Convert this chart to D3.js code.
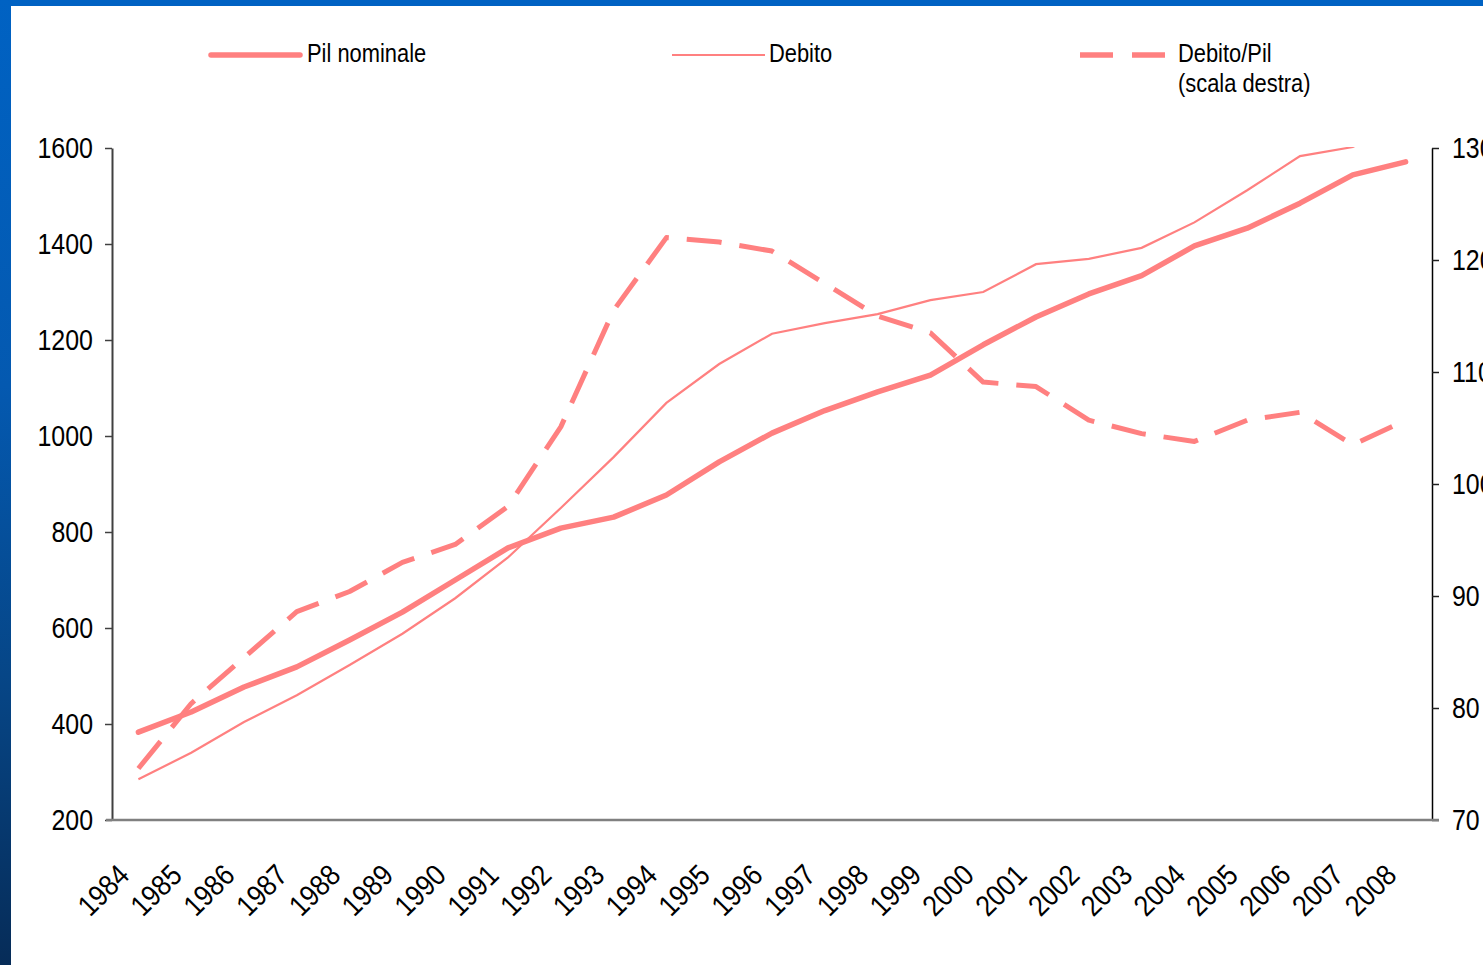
<!DOCTYPE html>
<html>
<head>
<meta charset="utf-8">
<script src="https://cdn.jsdelivr.net/npm/d3@7"></script>
<style>
  html, body { margin: 0; padding: 0; background: #ffffff; overflow: hidden; }
  svg { display: block; font-family: "Liberation Sans", Arial, sans-serif; }
</style>
</head>
<body>
<svg id="chart" width="1483" height="965"></svg>
<script>
// Italia: PIL nominale e debito pubblico (miliardi di euro), rapporto debito/PIL (%)
const years = ["1984","1985","1986","1987","1988","1989","1990","1991","1992","1993","1994","1995","1996",
               "1997","1998","1999","2000","2001","2002","2003","2004","2005","2006","2007","2008"];
const pilNominale = [383, 425, 477, 519, 575, 633, 700, 767, 808, 831, 877, 946, 1006,
                     1053, 1092, 1127, 1190, 1248, 1296, 1334, 1396, 1433, 1485, 1544, 1571];
const debito = [285, 340, 404, 460, 523, 588, 662, 747, 850, 956, 1069, 1150, 1213,
                1235, 1254, 1283, 1300, 1358, 1369, 1392, 1445, 1512, 1583, 1602, 1663];
const debitoPil = [74.6, 80.4, 84.5, 88.6, 90.4, 93.0, 94.6, 98.0, 105.1, 115.5, 122.0, 121.6, 120.8,
                   117.9, 115.0, 113.5, 109.1, 108.7, 105.7, 104.5, 103.8, 105.7, 106.4, 103.5, 105.7];
const leftTicks = [200, 400, 600, 800, 1000, 1200, 1400, 1600];
const rightTicks = [70, 80, 90, 100, 110, 120, 130];

const W = 1483, H = 965;
const plot = { left: 112, right: 1432, top: 148, bottom: 820 };
const lineColor = "#ff8080";

const svg = d3.select("#chart");

// slide frame: blue band on top and along the left edge
const defs = svg.append("defs");
const grad = defs.append("linearGradient").attr("id", "sideBand")
  .attr("x1", 0).attr("y1", 0).attr("x2", 0).attr("y2", 1);
grad.append("stop").attr("offset", "0%").attr("stop-color", "#0062c3");
grad.append("stop").attr("offset", "40%").attr("stop-color", "#0459b0");
grad.append("stop").attr("offset", "70%").attr("stop-color", "#064687");
grad.append("stop").attr("offset", "100%").attr("stop-color", "#062c58");
svg.append("rect").attr("x", 0).attr("y", 0).attr("width", W).attr("height", H).attr("fill", "#ffffff");
svg.append("rect").attr("x", 0).attr("y", 0).attr("width", W).attr("height", 6).attr("fill", "#0062c3");
svg.append("rect").attr("x", 0).attr("y", 0).attr("width", 11).attr("height", H).attr("fill", "url(#sideBand)");

defs.append("clipPath").attr("id", "plotClip")
  .append("rect")
  .attr("x", plot.left).attr("y", plot.top - 1)
  .attr("width", plot.right - plot.left).attr("height", plot.bottom - plot.top + 1);

// scales
const x = d3.scalePoint().domain(years).range([plot.left, plot.right]).padding(0.5);
const yL = d3.scaleLinear().domain([200, 1600]).range([plot.bottom, plot.top]);
const yR = d3.scaleLinear().domain([70, 130]).range([plot.bottom, plot.top]);

// narrow the glyphs horizontally, like the condensed chart font
function squeeze(sel, k) {
  sel.each(function () {
    const w = this.getComputedTextLength();
    this.setAttribute("textLength", (w * k).toFixed(1));
    this.setAttribute("lengthAdjust", "spacingAndGlyphs");
  });
}

// left axis
const gL = svg.append("g").attr("transform", `translate(${plot.left},0)`)
  .call(d3.axisLeft(yL).tickValues(leftTicks).tickFormat(d3.format("d")).tickSize(7).tickPadding(12).tickSizeOuter(0));
gL.select(".domain").attr("stroke", "#404040").attr("stroke-width", 2);
gL.selectAll(".tick line").attr("stroke", "#404040").attr("stroke-width", 1.5);
gL.selectAll(".tick text").attr("font-size", 29).attr("fill", "#000").attr("dy", "0.33em")
  .call(squeeze, 0.86);

// right axis
const gR = svg.append("g").attr("transform", `translate(${plot.right},0)`)
  .call(d3.axisRight(yR).tickValues(rightTicks).tickFormat(d3.format("d")).tickSize(7).tickPadding(13).tickSizeOuter(0));
gR.select(".domain").attr("stroke", "#000").attr("stroke-width", 1.5);
gR.selectAll(".tick line").attr("stroke", "#202020").attr("stroke-width", 1.5);
gR.selectAll(".tick text").attr("font-size", 29).attr("fill", "#000").attr("dy", "0.33em")
  .call(squeeze, 0.86);

// category axis
const gX = svg.append("g").attr("transform", `translate(0,${plot.bottom})`)
  .call(d3.axisBottom(x).tickSize(0).tickPadding(0).tickSizeOuter(0));
gX.select(".domain").remove();
svg.append("line")
  .attr("x1", plot.left - 6).attr("x2", plot.right + 7)
  .attr("y1", plot.bottom).attr("y2", plot.bottom)
  .attr("stroke", "#808080").attr("stroke-width", 2.5);
gX.selectAll(".tick text")
  .attr("font-size", 29.5).attr("fill", "#000")
  .attr("text-anchor", "end").attr("dy", null).attr("y", 0)
  .attr("transform", "translate(-8,57) rotate(-45)")
  .call(squeeze, 0.88);

// series
const lines = svg.append("g").attr("clip-path", "url(#plotClip)");
const lineL = d3.line().x((d, i) => x(years[i])).y(d => yL(d));
const lineR = d3.line().x((d, i) => x(years[i])).y(d => yR(d));

lines.append("path").datum(debito)
  .attr("d", lineL).attr("fill", "none")
  .attr("stroke", lineColor).attr("stroke-width", 2.2);

lines.append("path").datum(pilNominale)
  .attr("d", lineL).attr("fill", "none")
  .attr("stroke", lineColor).attr("stroke-width", 5.5)
  .attr("stroke-linecap", "round").attr("stroke-linejoin", "round");

lines.append("path").datum(debitoPil)
  .attr("d", lineR).attr("fill", "none")
  .attr("stroke", lineColor).attr("stroke-width", 5)
  .attr("stroke-dasharray", "35,18").attr("stroke-linejoin", "round");

// legend
const legend = svg.append("g");
const legendItems = [
  { label: ["Pil nominale"], x1: 211, x2: 300, tx: 307, width: 5.5, dash: null, cap: "round" },
  { label: ["Debito"], x1: 672, x2: 765, tx: 769, width: 2, dash: null, cap: "butt" },
  { label: ["Debito/Pil", "(scala destra)"], x1: 1080, x2: 1165, tx: 1178, width: 5.5, dash: "33,19", cap: "butt" }
];
legendItems.forEach(it => {
  legend.append("line")
    .attr("x1", it.x1).attr("x2", it.x2).attr("y1", 55).attr("y2", 55)
    .attr("stroke", lineColor).attr("stroke-width", it.width)
    .attr("stroke-linecap", it.cap)
    .attr("stroke-dasharray", it.dash);
  it.label.forEach((t, j) => {
    legend.append("text")
      .attr("x", it.tx).attr("y", 62 + j * 30)
      .attr("font-size", 25).attr("fill", "#000")
      .text(t)
      .call(squeeze, 0.875);
  });
});
</script>
</body>
</html>
